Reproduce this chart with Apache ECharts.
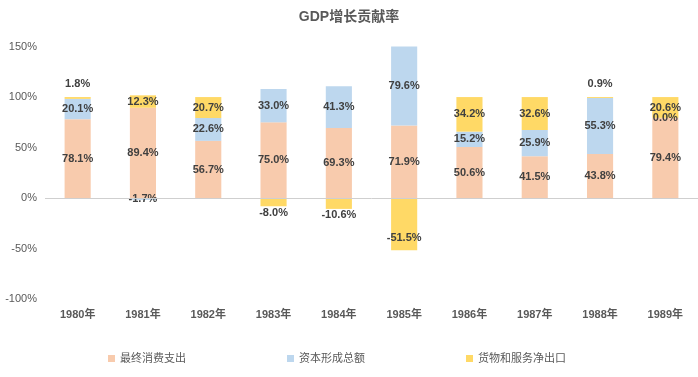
<!DOCTYPE html>
<html><head><meta charset="utf-8">
<script src="https://cdn.jsdelivr.net/npm/echarts@6/dist/echarts.min.js"></script>
<style>html,body{margin:0;padding:0;background:#fff}#c{width:698px;height:377px}</style>
</head><body><div id="c"></div>
<script>
var categories = ['1980年','1981年','1982年','1983年','1984年','1985年','1986年','1987年','1988年','1989年'];
var consumption = [78.1, 89.4, 56.7, 75.0, 69.3, 71.9, 50.6, 41.5, 43.8, 79.4];
var capital = [20.1, -1.7, 22.6, 33.0, 41.3, 79.6, 15.2, 25.9, 55.3, 0.0];
var netExports = [1.8, 12.3, 20.7, -8.0, -10.6, -51.5, 34.2, 32.6, 0.9, 20.6];
var seriesNames = ['最终消费支出','资本形成总额','货物和服务净出口'];
var yTicks = [-100, -50, 0, 50, 100, 150];

var cjk = '"Liberation Sans","Noto Sans CJK SC",sans-serif';
var labelBase = {show:true, position:'inside', color:'#404040', fontWeight:'bold', fontSize:11, fontFamily:cjk,
  formatter:function(p){return p.value.toFixed(1)+'%';}};

function yellowData(arr){
  return arr.map(function(v){
    var lab;
    if (v > 0 && v < 5) lab = {position:'top', distance:8};
    else if (v < 0 && v > -20) lab = {position:'bottom', distance:1};
    else if (v <= -20) lab = {position:'insideBottom', distance:7};
    else lab = {position:'inside'};
    return {value:v, label:lab};
  });
}

var chart = echarts.init(document.getElementById('c'));
chart.setOption({
  animation:false,
  backgroundColor:'#fff',
  title:{text:'GDP增长贡献率', left:'center', top:5,
    textStyle:{fontSize:14, fontWeight:'bold', color:'#595959', fontFamily:cjk}},
  legend:{data:seriesNames, left:103, top:348, itemWidth:7, itemHeight:7, itemGap:101, icon:'rect',
    textStyle:{fontSize:11, color:'#595959', fontFamily:cjk}},
  grid:{left:45, right:0, top:46.5, bottom:77.7, containLabel:false},
  xAxis:{type:'category', data:categories,
    axisLine:{show:false}, axisTick:{show:false},
    axisLabel:{margin:10, color:'#595959', fontSize:11, fontWeight:'bold', fontFamily:cjk}},
  yAxis:{type:'value', min:yTicks[0], max:yTicks[yTicks.length-1], interval:50,
    splitLine:{show:false}, axisLine:{show:false}, axisTick:{show:false},
    axisLabel:{margin:8, color:'#595959', fontSize:11, fontFamily:cjk, formatter:'{value}%'}},
  series:[
    {name:seriesNames[0], type:'bar', stack:'g', barWidth:'40%', data:consumption,
      itemStyle:{color:'#F8CBAD'}, label:labelBase,
      markLine:{silent:true, symbol:'none', label:{show:false},
        lineStyle:{color:'#CFCFCF', type:'solid', width:1}, data:[{yAxis:0}]}},
    {name:seriesNames[1], type:'bar', stack:'g', data:capital,
      itemStyle:{color:'#BDD7EE'}, label:labelBase},
    {name:seriesNames[2], type:'bar', stack:'g', data:yellowData(netExports),
      itemStyle:{color:'#FFD966'}, label:labelBase}
  ]
});
</script></body></html>
